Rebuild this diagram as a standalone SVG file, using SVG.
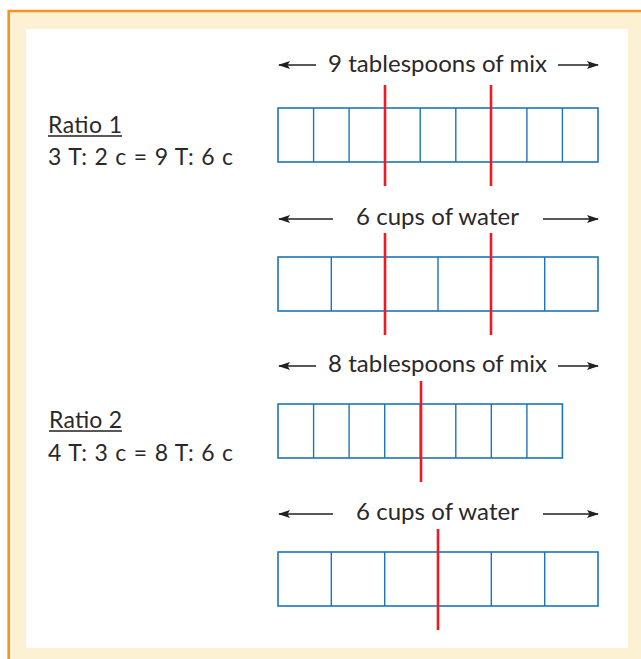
<svg xmlns="http://www.w3.org/2000/svg" width="641" height="659" viewBox="0 0 641 659">
<defs>
<marker id="ah" viewBox="0 0 12 10" refX="11" refY="5" markerWidth="12" markerHeight="10" markerUnits="userSpaceOnUse" orient="auto-start-reverse">
<path d="M0,1 L12,5 L0,9 L2.5,5 Z" fill="#231f20"/>
</marker>
<style>
.lbl{font-family:Lato,"Open Sans","Liberation Sans",sans-serif;font-size:24px;fill:#2b2829}
.rt{font-family:Lato,"Open Sans","Liberation Sans",sans-serif;font-size:23px;fill:#2b2829}
.ul{stroke:#231f20;stroke-width:1.3}
.box{fill:none;stroke:#1c75bc;stroke-width:1.6}
.div{stroke:#1c75bc;stroke-width:1.4}
.red{stroke:#ed1c24;stroke-width:2.6}
.arr{stroke:#231f20;stroke-width:1.4;fill:none;marker-end:url(#ah)}
</style>
</defs>
<rect x="0" y="0" width="641" height="659" fill="#ffffff"/>
<rect x="8.5" y="11" width="633" height="648" fill="#fdf1d4"/>
<path d="M8.7,659 V11 H641" fill="none" stroke="#f7941d" stroke-width="2.6"/>
<rect x="26" y="29" width="602" height="619" fill="#ffffff"/>

<g id="ratio1-text">
<text class="rt" x="48" y="133" textLength="74">Ratio 1</text>
<line class="ul" x1="48" y1="136" x2="122" y2="136"/>
<text class="rt" x="48" y="165" textLength="185">3 T: 2 c = 9 T: 6 c</text>
</g>
<g id="ratio2-text">
<text class="rt" x="49" y="428" textLength="73">Ratio 2</text>
<line class="ul" x1="49" y1="431" x2="122" y2="431"/>
<text class="rt" x="48" y="461" textLength="185">4 T: 3 c = 8 T: 6 c</text>
</g>

<g id="label1"><text class="lbl" x="328" y="72" textLength="219">9 tablespoons of mix</text></g>
<g id="label2"><text class="lbl" x="356" y="225" textLength="163">6 cups of water</text></g>
<g id="label3"><text class="lbl" x="328" y="372" textLength="219">8 tablespoons of mix</text></g>
<g id="label4"><text class="lbl" x="356" y="520" textLength="163">6 cups of water</text></g>

<g id="bar1">
<rect class="box" x="278" y="108" width="320" height="54"/>
<path class="div" d="M313.6,108V162M349.1,108V162M384.7,108V162M420.2,108V162M455.8,108V162M491.3,108V162M526.9,108V162M562.4,108V162"/>
</g>
<g id="bar2">
<rect class="box" x="278" y="257" width="320" height="54"/>
<path class="div" d="M331.3,257V311M384.7,257V311M438,257V311M491.3,257V311M544.7,257V311"/>
</g>
<g id="bar3">
<rect class="box" x="278" y="404" width="284.4" height="54"/>
<path class="div" d="M313.6,404V458M349.1,404V458M384.7,404V458M420.2,404V458M455.8,404V458M491.3,404V458M526.9,404V458"/>
</g>
<g id="bar4">
<rect class="box" x="278" y="552" width="320" height="54"/>
<path class="div" d="M331.3,552V606M384.7,552V606M438,552V606M491.3,552V606M544.7,552V606"/>
</g>

<g id="connectors">
<line class="arr" x1="316" y1="65" x2="279" y2="65"/>
<line class="arr" x1="558" y1="65" x2="598" y2="65"/>
<line class="arr" x1="333" y1="219" x2="279" y2="219"/>
<line class="arr" x1="543" y1="219" x2="598" y2="219"/>
<line class="arr" x1="316" y1="366" x2="279" y2="366"/>
<line class="arr" x1="558" y1="366" x2="598" y2="366"/>
<line class="arr" x1="333" y1="514" x2="279" y2="514"/>
<line class="arr" x1="543" y1="514" x2="598" y2="514"/>
<line class="red" x1="385" y1="85" x2="385" y2="186"/>
<line class="red" x1="491" y1="85" x2="491" y2="186"/>
<line class="red" x1="385" y1="233" x2="385" y2="335"/>
<line class="red" x1="491" y1="233" x2="491" y2="335"/>
<line class="red" x1="421" y1="381" x2="421" y2="482"/>
<line class="red" x1="438" y1="529" x2="438" y2="630"/>
</g>
</svg>
